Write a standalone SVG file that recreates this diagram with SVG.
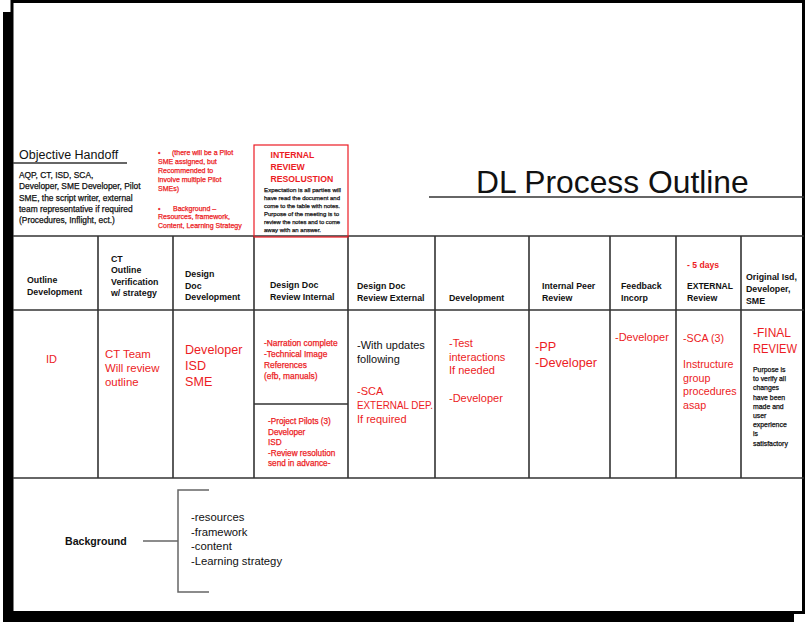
<svg xmlns="http://www.w3.org/2000/svg" width="806" height="625" viewBox="0 0 806 625">
<style>
text{font-family:"Liberation Sans",Arial,sans-serif;}
.r{fill:#ec1c24;}
.k{fill:#111;}
.b{font-weight:bold;}
.sb{stroke-width:0.25;paint-order:stroke;}
.r.sb{stroke:#ec1c24;}
.k.sb{stroke:#111;}
.h{font-size:8.8px;font-weight:bold;fill:#111;}
.grid{stroke:#333;stroke-width:1.6;fill:none;}
.conn{stroke:#666;stroke-width:1.5;fill:none;}
</style>
<rect x="3" y="12" width="791" height="610" fill="#000"/>
<rect x="12" y="1.5" width="791.5" height="611" fill="#fff" stroke="#000" stroke-width="3"/>

<g id="table-grid" class="grid">
<line x1="13" y1="236" x2="804" y2="236"/>
<line x1="13" y1="310" x2="804" y2="310"/>
<line x1="13" y1="478" x2="804" y2="478"/>
<line x1="98" y1="236" x2="98" y2="478"/>
<line x1="173" y1="236" x2="173" y2="478"/>
<line x1="254" y1="236" x2="254" y2="478"/>
<line x1="348" y1="236" x2="348" y2="478"/>
<line x1="435" y1="236" x2="435" y2="478"/>
<line x1="529" y1="236" x2="529" y2="478"/>
<line x1="610" y1="236" x2="610" y2="478"/>
<line x1="676" y1="236" x2="676" y2="478"/>
<line x1="741" y1="236" x2="741" y2="478"/>
<line x1="254" y1="404" x2="348" y2="404"/>
<line x1="13" y1="163" x2="127" y2="163"/>
<line x1="429" y1="197" x2="804" y2="197"/>
</g>

<g id="title">
<text x="476" y="193" font-size="31.8" class="k">DL Process Outline</text>
</g>

<g id="objective-handoff">
<text x="19" y="159" font-size="12.5" class="k">Objective Handoff</text>
<g font-size="8.4" class="k sb">
<text x="19" y="178">AQP, CT, ISD, SCA,</text>
<text x="19" y="189.3">Developer, SME Developer, Pilot</text>
<text x="19" y="200.6">SME, the script writer, external</text>
<text x="19" y="211.9">team representative if required</text>
<text x="19" y="223.2">(Procedures, Inflight, ect.)</text>
</g>
</g>

<g id="notes" class="r sb" font-size="7">
<text x="158" y="154.5">•</text>
<text x="172" y="154.5">(there will be a Pilot</text>
<text x="158" y="163.5">SME assigned, but</text>
<text x="158" y="172.5">Recommended to</text>
<text x="158" y="181.5">involve multiple Pilot</text>
<text x="158" y="190.5">SMEs)</text>
<text x="158" y="210.5">•</text>
<text x="173" y="210.5">Background –</text>
<text x="158" y="219">Resources, framework,</text>
<text x="158" y="227.5">Content, Learning Strategy</text>
</g>

<g id="internal-review-resolution">
<rect x="254" y="145" width="94" height="92" fill="none" stroke="#ec1c24" stroke-width="1.2"/>
<g class="r b" font-size="8.7">
<text x="270.5" y="158">INTERNAL</text>
<text x="270.5" y="170">REVIEW</text>
<text x="270.5" y="182">RESOLUSTION</text>
</g>
<g class="k sb" font-size="6">
<text x="264" y="192" textLength="77" lengthAdjust="spacingAndGlyphs">Expectation is all parties will</text>
<text x="264" y="200" textLength="76" lengthAdjust="spacingAndGlyphs">have read the document and</text>
<text x="264" y="208" textLength="76" lengthAdjust="spacingAndGlyphs">come to the table with notes.</text>
<text x="264" y="215.8" textLength="75" lengthAdjust="spacingAndGlyphs">Purpose of the meeting is to</text>
<text x="264" y="223.8" textLength="76" lengthAdjust="spacingAndGlyphs">review the notes and to come</text>
<text x="264" y="231.6" textLength="57" lengthAdjust="spacingAndGlyphs">away with an answer.</text>
</g>
</g>

<g id="col-outline-development">
<text class="h" x="27" y="283">Outline</text>
<text class="h" x="27" y="295">Development</text>
<text class="r" x="46" y="363" font-size="11">ID</text>
</g>

<g id="col-ct-outline-verification">
<text class="h" x="111" y="261.5">CT</text>
<text class="h" x="111" y="273">Outline</text>
<text class="h" x="111" y="284.5">Verification</text>
<text class="h" x="111" y="296">w/ strategy</text>
<g class="r" font-size="11.4">
<text x="105" y="358">CT Team</text>
<text x="105" y="372">Will review</text>
<text x="105" y="386">outline</text>
</g>
</g>

<g id="col-design-doc-development">
<text class="h" x="185" y="277">Design</text>
<text class="h" x="185" y="288.5">Doc</text>
<text class="h" x="185" y="300">Development</text>
<g class="r" font-size="12.6">
<text x="185" y="354">Developer</text>
<text x="185" y="370">ISD</text>
<text x="185" y="386">SME</text>
</g>
</g>

<g id="col-design-doc-review-internal">
<text class="h" x="270" y="288">Design Doc</text>
<text class="h" x="270" y="300">Review Internal</text>
<g class="r sb" font-size="8.4">
<text x="264" y="346">-Narration complete</text>
<text x="264" y="357">-Technical Image</text>
<text x="264" y="367.5">References</text>
<text x="264" y="378.5">(efb, manuals)</text>
</g>
<g class="r sb" font-size="8.2">
<text x="268" y="424">-Project Pilots (3)</text>
<text x="268" y="434.5">Developer</text>
<text x="268" y="445">ISD</text>
<text x="268" y="456">-Review resolution</text>
<text x="268" y="466">send in advance-</text>
</g>
</g>

<g id="col-design-doc-review-external">
<text class="h" x="357" y="289">Design Doc</text>
<text class="h" x="357" y="301">Review External</text>
<g class="k" font-size="11">
<text x="357" y="349">-With updates</text>
<text x="357" y="362.5">following</text>
</g>
<g class="r" font-size="11">
<text x="357" y="395">-SCA</text>
<text x="357" y="409" textLength="76" lengthAdjust="spacingAndGlyphs">EXTERNAL DEP.</text>
<text x="357" y="423">If required</text>
</g>
</g>

<g id="col-development">
<text class="h" x="449" y="301" font-size="10.4">Development</text>
<g class="r" font-size="11">
<text x="449" y="347">-Test</text>
<text x="449" y="360.5">interactions</text>
<text x="449" y="374">If needed</text>
<text x="449" y="402">-Developer</text>
</g>
</g>

<g id="col-internal-peer-review">
<text class="h" x="542" y="289">Internal Peer</text>
<text class="h" x="542" y="301">Review</text>
<g class="r" font-size="12.7">
<text x="535" y="351">-PP</text>
<text x="535" y="367">-Developer</text>
</g>
</g>

<g id="col-feedback-incorp">
<text class="h" x="621" y="289">Feedback</text>
<text class="h" x="621" y="301">Incorp</text>
<text class="r" x="615" y="341" font-size="11">-Developer</text>
</g>

<g id="col-external-review">
<text class="r b" x="687" y="268" font-size="8.6">- 5 days</text>
<text class="h" x="687" y="289" textLength="46" lengthAdjust="spacingAndGlyphs">EXTERNAL</text>
<text class="h" x="687" y="301">Review</text>
<g class="r" font-size="10.7">
<text x="683" y="342">-SCA (3)</text>
<text x="683" y="368">Instructure</text>
<text x="683" y="381.5">group</text>
<text x="683" y="395">procedures</text>
<text x="683" y="408.5">asap</text>
</g>
</g>

<g id="col-original-isd">
<text class="h" x="746" y="280">Original Isd,</text>
<text class="h" x="746" y="292">Developer,</text>
<text class="h" x="746" y="303.5">SME</text>
<g class="r" font-size="12">
<text x="753" y="337">-FINAL</text>
<text x="753" y="353" textLength="44" lengthAdjust="spacingAndGlyphs">REVIEW</text>
</g>
<g class="k sb" font-size="6.9">
<text x="753" y="372">Purpose is</text>
<text x="753" y="381.2">to verify all</text>
<text x="753" y="390.4">changes</text>
<text x="753" y="399.6">have been</text>
<text x="753" y="408.8">made and</text>
<text x="753" y="418">user</text>
<text x="753" y="427.2">experience</text>
<text x="753" y="436.4">is</text>
<text x="753" y="445.6">satisfactory</text>
</g>
</g>

<g id="connectors" class="conn">
<line x1="143" y1="541" x2="178" y2="541"/>
<polyline points="209,490 178,490 178,592 209,592"/>
</g>

<g id="background">
<text class="b k" x="65" y="545" font-size="10.6">Background</text>
</g>

<g id="background-list" class="k" font-size="11.3">
<text x="191" y="521">-resources</text>
<text x="191" y="535.5">-framework</text>
<text x="191" y="550">-content</text>
<text x="191" y="564.5">-Learning strategy</text>
</g>
</svg>
